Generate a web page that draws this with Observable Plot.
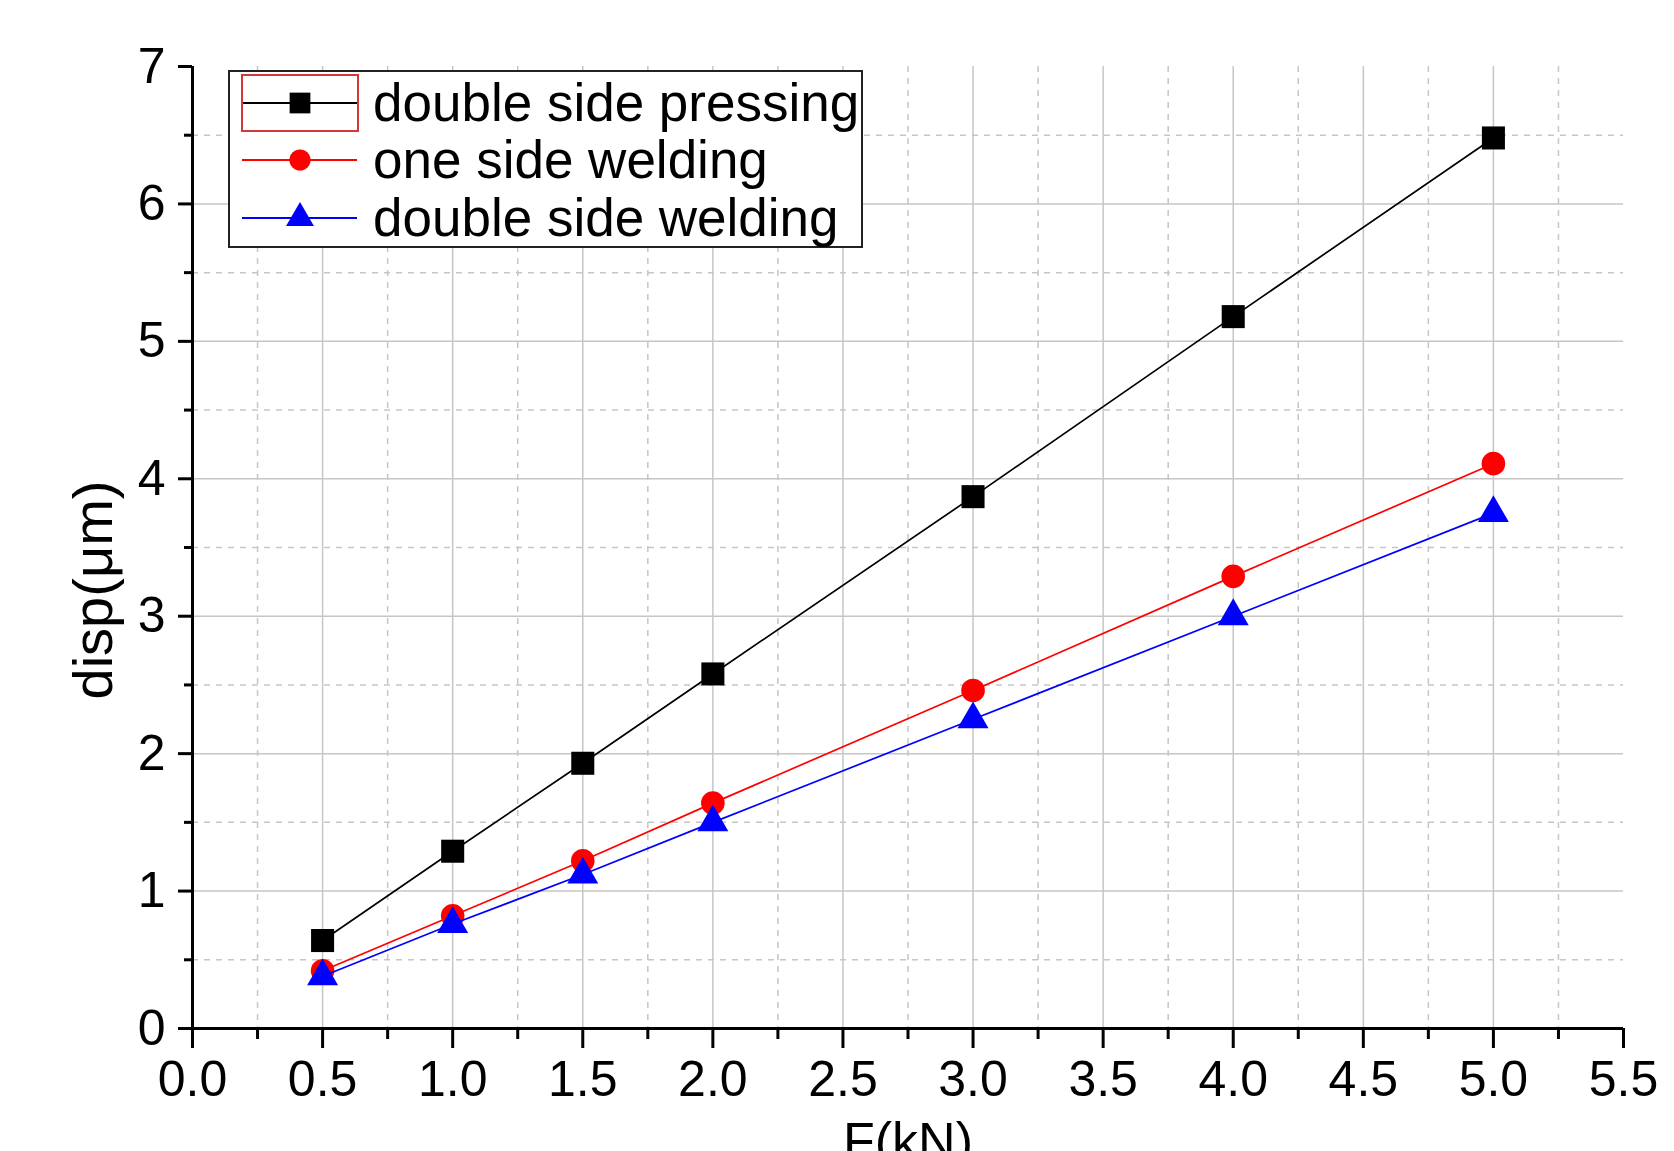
<!DOCTYPE html>
<html>
<head>
<meta charset="utf-8">
<script src="https://cdn.jsdelivr.net/npm/d3@7"></script>
<script src="https://cdn.jsdelivr.net/npm/@observablehq/plot@0.6"></script>
<style>
  body { margin: 0; background: #fff; }
  #wrap { position: relative; width: 1674px; height: 1151px; overflow: hidden; background: #fff; }
  #legend { position: absolute; left: 0; top: 0; pointer-events: none; }
</style>
</head>
<body>
<div id="wrap"></div>
<script>
// ---- data ----
const forces = [0.5, 1.0, 1.5, 2.0, 3.0, 4.0, 5.0];
const doubleSidePressing = [0.64, 1.29, 1.93, 2.58, 3.87, 5.18, 6.48];
const oneSideWelding = [0.42, 0.82, 1.22, 1.64, 2.46, 3.29, 4.11];
const doubleSideWelding = [0.38, 0.76, 1.12, 1.50, 2.25, 3.00, 3.75];
const seriesNames = ["double side pressing", "one side welding", "double side welding"];
const seriesValues = [doubleSidePressing, oneSideWelding, doubleSideWelding];
const seriesColors = ["#000000", "#ff0000", "#0000ff"];
const seriesSymbols = ["square", "circle", "triangle"];

const xMajorTicks = [0, 0.5, 1.0, 1.5, 2.0, 2.5, 3.0, 3.5, 4.0, 4.5, 5.0, 5.5];
const xMinorTicks = [0.25, 0.75, 1.25, 1.75, 2.25, 2.75, 3.25, 3.75, 4.25, 4.75, 5.25];
const yMajorTicks = [0, 1, 2, 3, 4, 5, 6, 7];
const yMinorTicks = [0.5, 1.5, 2.5, 3.5, 4.5, 5.5, 6.5];
const xGridMajor = [0.5, 1.0, 1.5, 2.0, 2.5, 3.0, 3.5, 4.0, 4.5, 5.0];
const yGridMajor = [1, 2, 3, 4, 5, 6];
const xLabel = "F(kN)";
const yLabel = "disp(\u03BCm)";

// ---- build table ----
const rows = [];
seriesNames.forEach((name, si) => {
  forces.forEach((f, i) => rows.push({series: name, force: f, disp: seriesValues[si][i]}));
});

const FONT = "'Liberation Sans', Arial, Helvetica, sans-serif";
const gridColor = "#c6c6c6";
const symbolR = {square: 13, circle: 11.8, triangle: 11.5};

const seriesMarks = [];
seriesNames.forEach((name, si) => {
  const d = rows.filter(r => r.series === name);
  seriesMarks.push(Plot.line(d, {x: "force", y: "disp", stroke: seriesColors[si], strokeWidth: 1.7}));
  seriesMarks.push(Plot.dot(d, {x: "force", y: "disp", symbol: () => seriesSymbols[si], fill: seriesColors[si], stroke: "none", r: symbolR[seriesSymbols[si]]}));
});

const chart = Plot.plot({
  width: 1674,
  height: 1151,
  marginLeft: 192,
  marginRight: 51,
  marginTop: 66,
  marginBottom: 123,
  style: {fontFamily: FONT, color: "#000", background: "#fff", overflow: "visible"},
  x: {domain: [0, 5.5]},
  y: {domain: [0, 7]},
  symbol: {type: "identity"},
  marks: [
    Plot.ruleX(xMinorTicks, {stroke: gridColor, strokeWidth: 1.5, strokeDasharray: "6,6"}),
    Plot.ruleY(yMinorTicks, {stroke: gridColor, strokeWidth: 1.5, strokeDasharray: "6,6"}),
    Plot.ruleX(xGridMajor, {stroke: gridColor, strokeWidth: 1.5}),
    Plot.ruleY(yGridMajor, {stroke: gridColor, strokeWidth: 1.5}),
    ...seriesMarks,
    Plot.axisX({ticks: xMajorTicks, tickSize: 20, tickPadding: 12, strokeWidth: 3, tickFormat: d3.format(".1f"), fontSize: 50, label: null}),
    Plot.axisX({ticks: xMinorTicks, tickSize: 11, strokeWidth: 3, tickFormat: () => "", label: null}),
    Plot.axisY({ticks: yMajorTicks, tickSize: 14, tickPadding: 13, strokeWidth: 3, tickFormat: d3.format("d"), fontSize: 50, label: null}),
    Plot.axisY({ticks: yMinorTicks, tickSize: 8, strokeWidth: 3, tickFormat: () => "", label: null}),
    Plot.ruleY([0], {stroke: "#000", strokeWidth: 3}),
    Plot.ruleX([0], {stroke: "#000", strokeWidth: 3}),
    Plot.text([xLabel], {frameAnchor: "bottom", lineAnchor: "top", dy: 94, fontSize: 52, fill: "#000"}),
    Plot.text([yLabel], {frameAnchor: "left", rotate: -90, dx: -98, dy: 152, fontSize: 56, fill: "#000"})
  ]
});
document.getElementById("wrap").appendChild(chart);

// ---- legend overlay ----
const leg = d3.select("#wrap").append("svg")
  .attr("id", "legend").attr("width", 1674).attr("height", 1151);
const lx = 229, ly = 71, lw = 633, lh = 176;
leg.append("rect").attr("x", lx).attr("y", ly).attr("width", lw).attr("height", lh)
  .attr("fill", "#fff").attr("stroke", "#222").attr("stroke-width", 2);
const rowY = [103, 160, 218];
const d3sym = {square: d3.symbolSquare, circle: d3.symbolCircle, triangle: d3.symbolTriangle};
seriesNames.forEach((name, i) => {
  const y = rowY[i];
  leg.append("line").attr("x1", 242).attr("x2", 357).attr("y1", y).attr("y2", y)
    .attr("stroke", seriesColors[i]).attr("stroke-width", 1.8);
  const r = symbolR[seriesSymbols[i]] * 0.9;
  leg.append("path").attr("d", d3.symbol(d3sym[seriesSymbols[i]], Math.PI * r * r)())
    .attr("transform", `translate(300,${y})`).attr("fill", seriesColors[i]);
  leg.append("text").attr("x", 373).attr("y", y).attr("dy", "0.34em")
    .attr("font-family", FONT).attr("font-size", 53).attr("fill", "#000").text(name);
});
leg.append("rect").attr("x", 242).attr("y", 75).attr("width", 116).attr("height", 56)
  .attr("fill", "none").attr("stroke", "#d03a3a").attr("stroke-width", 2);
</script>
</body>
</html>
